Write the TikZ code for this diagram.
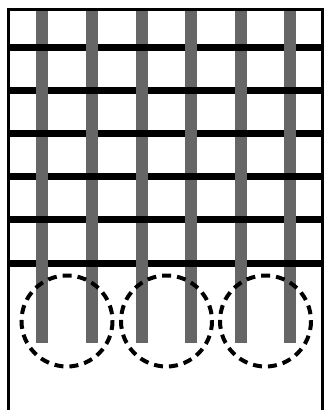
\documentclass[tikz,border=0pt]{standalone}
\begin{document}
\begin{tikzpicture}[x=1pt, y=-1pt,
    frame/.style={line width=3pt, line join=miter},
    weft/.style={line width=7pt, black},
    warp/.style={line width=11.5pt, black!60},
    ring/.style={dash pattern=on 9pt off 6pt, line width=4pt}]
    \useasboundingbox (0,0) rectangle (325,410);
    % open box
    \draw[frame] (8.5,410) -- (8.5,9.5) -- (322,9.5) -- (322,410);
    % horizontal threads
    \foreach \y in {47,90,133,176,219,263}
        \draw[weft] (8.5,\y) -- (322,\y);
    % vertical threads
    \foreach \x in {42,92,142,191,241,290}
        \draw[warp] (\x,11) -- (\x,343);
    % weave: black back on top at every other crossing
    \foreach \y [count=\i] in {47,90,133,176,219,263} {
        \foreach \x [count=\j] in {42,92,142,191,241,290} {
            \pgfmathtruncatemacro\wover{mod(\i+\j,2)}
            \ifnum\wover=0
                \draw[weft] (\x-6,\y) -- (\x+6,\y);
            \fi
        }
    }
    % dashed rings
    \foreach \cx in {67,166.5,265.5}
        \draw[ring] (\cx,321) circle[radius=45.5];
\end{tikzpicture}
\end{document}
